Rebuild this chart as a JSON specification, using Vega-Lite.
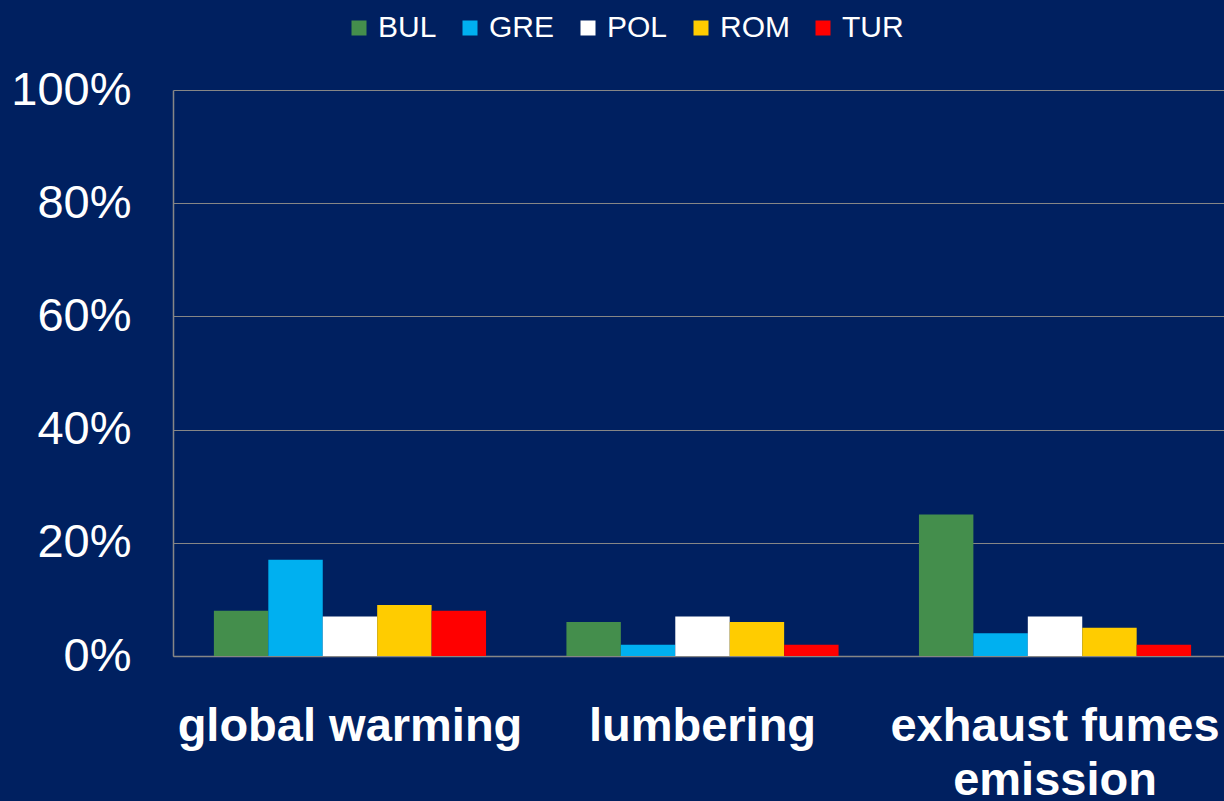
{
  "$schema": "https://vega.github.io/schema/vega-lite/v6.json",
  "autosize": "none",
  "width": 1059,
  "height": 566,
  "padding": {"left": 173, "top": 90, "right": 0, "bottom": 145},
  "background": "#002060",
  "config": {
    "font": "Liberation Sans",
    "view": {"stroke": null}
  },
  "data": {
    "values": [
      {"category": "global warming", "country": "BUL", "value": 0.08},
      {"category": "global warming", "country": "GRE", "value": 0.17},
      {"category": "global warming", "country": "POL", "value": 0.07},
      {"category": "global warming", "country": "ROM", "value": 0.09},
      {"category": "global warming", "country": "TUR", "value": 0.08},
      {"category": "lumbering", "country": "BUL", "value": 0.06},
      {"category": "lumbering", "country": "GRE", "value": 0.02},
      {"category": "lumbering", "country": "POL", "value": 0.07},
      {"category": "lumbering", "country": "ROM", "value": 0.06},
      {"category": "lumbering", "country": "TUR", "value": 0.02},
      {"category": "exhaust fumes emission", "country": "BUL", "value": 0.25},
      {"category": "exhaust fumes emission", "country": "GRE", "value": 0.04},
      {"category": "exhaust fumes emission", "country": "POL", "value": 0.07},
      {"category": "exhaust fumes emission", "country": "ROM", "value": 0.05},
      {"category": "exhaust fumes emission", "country": "TUR", "value": 0.02}
    ]
  },
  "mark": {"type": "bar"},
  "encoding": {
    "x": {
      "field": "category",
      "type": "nominal",
      "sort": ["global warming", "lumbering", "exhaust fumes emission"],
      "scale": {"paddingInner": 0.228, "paddingOuter": 0.116},
      "axis": {
        "title": null,
        "labelAngle": 0,
        "labelFontSize": 47,
        "labelFontWeight": "bold",
        "labelColor": "#FFFFFF",
        "labelPadding": 47,
        "labelLineHeight": 54,
        "labelLimit": 0,
        "labelOverlap": false,
        "labelBound": false,
        "labelExpr": "datum.label == 'exhaust fumes emission' ? ['exhaust fumes', 'emission'] : datum.label",
        "ticks": false,
        "domainColor": "#868686",
        "domainWidth": 1.5
      }
    },
    "xOffset": {
      "field": "country",
      "type": "nominal",
      "sort": ["BUL", "GRE", "POL", "ROM", "TUR"],
      "scale": {"paddingInner": 0, "paddingOuter": 0}
    },
    "y": {
      "field": "value",
      "type": "quantitative",
      "scale": {"domain": [0, 1], "nice": false},
      "axis": {
        "title": null,
        "values": [0, 0.2, 0.4, 0.6, 0.8, 1],
        "format": ".0%",
        "labelFontSize": 47,
        "labelColor": "#FFFFFF",
        "labelPadding": 42,
        "ticks": false,
        "grid": true,
        "gridColor": "#868686",
        "gridWidth": 1,
        "domainColor": "#868686",
        "domainWidth": 1.5
      }
    },
    "color": {
      "field": "country",
      "type": "nominal",
      "scale": {
        "domain": ["BUL", "GRE", "POL", "ROM", "TUR"],
        "range": ["#448E4C", "#00B0F0", "#FFFFFF", "#FFCC00", "#FF0000"]
      },
      "legend": {
        "title": null,
        "orient": "none",
        "direction": "horizontal",
        "legendX": 171,
        "legendY": -77,
        "symbolType": "square",
        "symbolSize": 225,
        "symbolStrokeWidth": 0,
        "symbolOpacity": 1,
        "labelFontSize": 30,
        "labelColor": "#FFFFFF",
        "labelOffset": 4,
        "columnPadding": 18
      }
    }
  }
}
